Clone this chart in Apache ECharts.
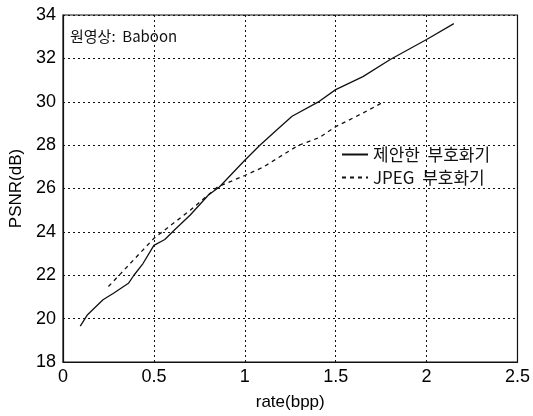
<!DOCTYPE html>
<html>
<head>
<meta charset="utf-8">
<script src="https://cdn.jsdelivr.net/npm/echarts@6/dist/echarts.min.js"></script>
<style>
  html, body { margin: 0; padding: 0; background: #fff; }
  #chart { width: 533px; height: 416px; }
</style>
</head>
<body>
<div id="chart"></div>
<script>
// 제안한 부호화기 (rate, PSNR)
const proposedRate = [0.095, 0.135, 0.22, 0.28, 0.36, 0.39, 0.44, 0.5, 0.56, 0.62, 0.70, 0.80, 0.86, 1.0, 1.08, 1.18, 1.26, 1.41, 1.5, 1.65, 1.8, 2.0, 2.15];
const proposedPsnr = [19.65, 20.18, 20.87, 21.18, 21.63, 22.0, 22.54, 23.38, 23.65, 24.14, 24.78, 25.7, 26.07, 27.3, 27.97, 28.73, 29.33, 30.02, 30.56, 31.16, 31.95, 32.87, 33.6];
// JPEG 부호화기
const jpegRate = [0.25, 0.32, 0.5, 0.7, 0.85, 1.0, 1.1, 1.29, 1.41, 1.5, 1.65, 1.75];
const jpegPsnr = [21.48, 22.1, 23.7, 25.0, 26.07, 26.6, 26.98, 27.97, 28.35, 28.85, 29.48, 29.93];

const seriesNames = ['제안한 부호화기', 'JPEG 부호화기'];

const zip = (xs, ys) => xs.map((x, i) => [x, ys[i]]);

const tickFont = { color: '#000', fontSize: 18, fontFamily: 'Liberation Sans, Arial, sans-serif' };
const gridLine = { show: true, lineStyle: { color: '#111', type: [2, 3], width: 1 } };

const chart = echarts.init(document.getElementById('chart'));
chart.setOption({
    animation: false,
    backgroundColor: '#fff',
    grid: { left: 62, right: 14, top: 15, bottom: 51, show: true, borderColor: '#111', borderWidth: 1.2 },
    graphic: [{
        type: 'text', left: 70, top: 29,
        style: { text: '원영상:  Baboon', fontSize: 15, fill: '#111', fontFamily: 'Noto Sans CJK KR, sans-serif' }
    }],
    legend: {
        orient: 'vertical', left: 341, top: 146, itemGap: 6,
        itemWidth: 26, itemHeight: 14, padding: 0,
        itemStyle: { opacity: 0 },
        formatter: name => name.replace(' ', '  '),
        textStyle: { fontSize: 17, color: '#111', fontFamily: 'Noto Sans CJK KR, sans-serif' },
        data: seriesNames
    },
    xAxis: {
        type: 'value', min: 0, max: 2.5, interval: 0.5,
        name: 'rate(bpp)', nameLocation: 'middle', nameGap: 32,
        nameTextStyle: { fontSize: 17, color: '#000', fontFamily: 'Liberation Sans, Arial, sans-serif' },
        axisLine: { lineStyle: { color: '#111', width: 1.2 } },
        axisTick: { show: false },
        axisLabel: Object.assign({ margin: 6 }, tickFont),
        splitLine: gridLine
    },
    yAxis: {
        type: 'value', min: 18, max: 34, interval: 2,
        name: 'PSNR(dB)', nameLocation: 'middle', nameGap: 38,
        nameTextStyle: { fontSize: 17, color: '#000', fontFamily: 'Liberation Sans, Arial, sans-serif' },
        axisLine: { lineStyle: { color: '#111', width: 1.2 } },
        axisTick: { show: false },
        axisLabel: Object.assign({ margin: 7 }, tickFont),
        splitLine: gridLine
    },
    series: [
        {
            name: seriesNames[0], type: 'line', data: zip(proposedRate, proposedPsnr),
            showSymbol: false, symbol: 'none', color: '#111',
            lineStyle: { color: '#111', width: 1.3, type: 'solid' }
        },
        {
            name: seriesNames[1], type: 'line', data: zip(jpegRate, jpegPsnr),
            showSymbol: false, symbol: 'none', color: '#111',
            lineStyle: { color: '#111', width: 1.3, type: [4, 4] }
        }
    ]
});
</script>
</body>
</html>
